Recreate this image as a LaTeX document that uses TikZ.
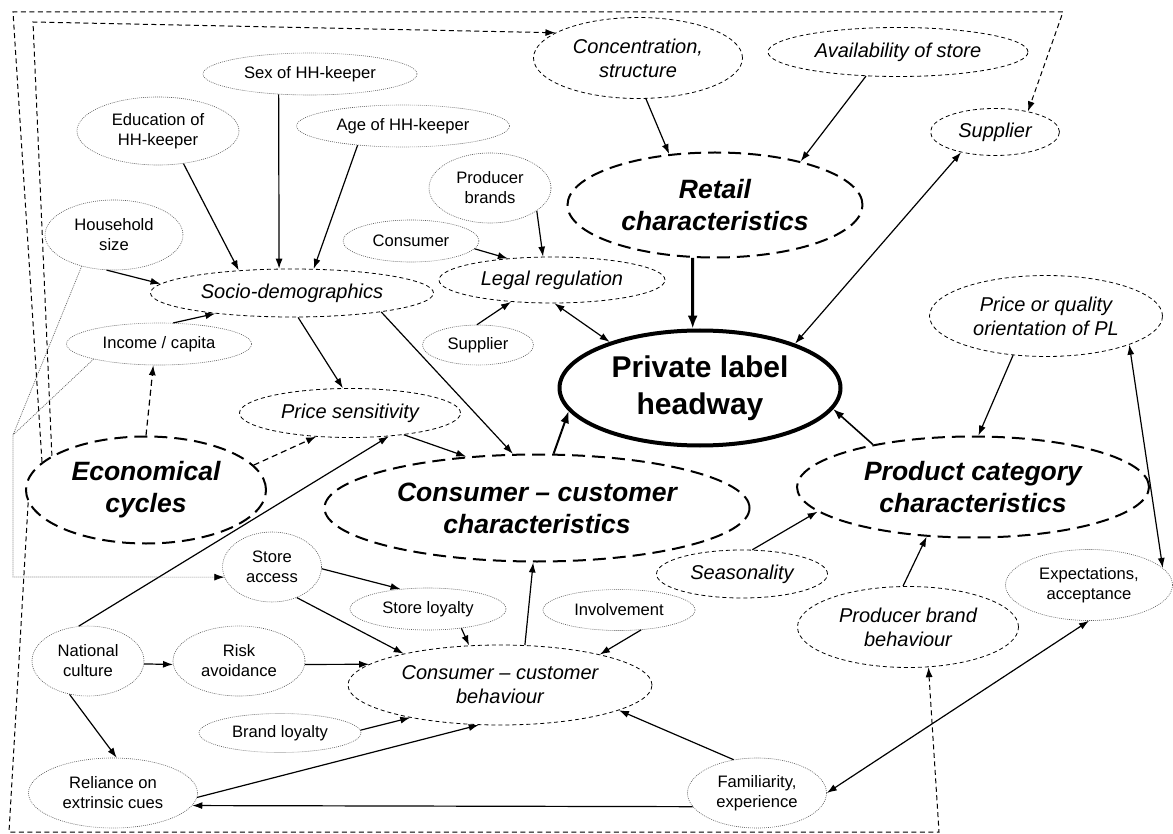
\documentclass[tikz,border=0pt]{standalone}
\usepackage{fontspec}
\setmainfont{Liberation Sans}
\usetikzlibrary{shapes.geometric,arrows.meta}
\begin{document}
\begin{tikzpicture}[x=1pt,y=-1pt,
  base/.style={ellipse,inner sep=0pt,align=center,text=black},
  sz/.style 2 args={minimum width=#1pt,minimum height=#2pt},
  dotell/.style={base,draw=black!65,line width=0.6pt,dash pattern=on 0.9pt off 1.1pt,font=\fontsize{16.6}{20}\selectfont},
  dashell/.style={base,draw,line width=0.8pt,dash pattern=on 4pt off 3pt,font=\itshape\fontsize{20}{24}\selectfont},
  bigell/.style={base,draw,line width=2pt,dash pattern=on 13pt off 7pt,font=\bfseries\itshape\fontsize{26.5}{32}\selectfont},
  mainell/.style={base,draw,line width=4pt,font=\bfseries\fontsize{30}{37}\selectfont},
  arr/.style={-{Latex[length=10pt,width=7pt]},line width=1.2pt},
  darr/.style={{Latex[length=10pt,width=7pt]}-{Latex[length=10pt,width=7pt]},line width=1.2pt},
  dasharr/.style={arr,dash pattern=on 6pt off 4pt},
  framearr/.style={-{Latex[length=10pt,width=7pt]},line width=1pt,dash pattern=on 5pt off 3.5pt},
  dotline/.style={draw=black!60,line width=0.7pt,dash pattern=on 1pt off 1pt},
]
\useasboundingbox (0,0) rectangle (1173,834);

% nodes
\node[dotell,sz={214}{42}] (sex) at (310,74) {Sex of HH-keeper};
\node[dotell,sz={162}{68}] (edu) at (158,131) {Education of\\HH-keeper};
\node[dotell,sz={213}{42}] (age) at (403,126) {Age of HH-keeper};
\node[dotell,sz={138}{70}] (hh) at (114,235) {Household\\size};
\node[dashell,sz={283}{48}] (socio) at (292,293) {Socio-demographics};
\node[dotell,sz={185}{42}] (inc) at (159,344) {Income / capita};
\node[bigell,sz={240}{107}] (econ) at (146,490) {Economical\\cycles};
\node[dashell,sz={221}{49}] (price) at (350,413) {Price sensitivity};
\node[dashell,sz={209}{81}] (conc) at (638,58) {Concentration,\\structure};
\node[dashell,sz={260}{49}] (avail) at (898,52) {Availability of store};
\node[dashell,sz={129}{47}] (supi) at (995,132) {Supplier};
\node[bigell,sz={295}{105}] (retail) at (715,205) {Retail\\characteristics};
\node[dotell,sz={122}{70}] (prodbr) at (490,188) {Producer\\brands};
\node[dotell,sz={136}{42}] (cons) at (411,241) {Consumer};
\node[dashell,sz={226}{46}] (legal) at (552,280) {Legal regulation};
\node[dotell,sz={111}{40}] (supp) at (478,345) {Supplier};
\node[mainell,sz={281}{115}] (plh) at (700,388) {Private label\\headway};
\node[dashell,sz={233}{81}] (pq) at (1046,316) {Price or quality\\orientation of PL};
\node[bigell,sz={352}{101}] (pcc) at (973,487) {Product category\\characteristics};
\node[bigell,sz={425}{107}] (ccc) at (537,508) {Consumer – customer\\characteristics};
\node[dashell,sz={171}{48}] (seas) at (742,574) {Seasonality};
\node[dotell,sz={99}{70}] (sa) at (272,567) {Store\\access};
\node[dotell,sz={156}{42}] (sl) at (428,609) {Store loyalty};
\node[dotell,sz={152}{41}] (inv) at (619,610) {Involvement};
\node[dashell,sz={304}{80}] (ccb) at (500,685) {Consumer – customer\\behaviour};
\node[dotell,sz={112}{70}] (nat) at (88,661) {National\\culture};
\node[dotell,sz={132}{70}] (risk) at (239,661) {Risk\\avoidance};
\node[dotell,sz={162}{39}] (bl) at (280,733) {Brand loyalty};
\node[dotell,sz={169}{70}] (rel) at (113,793) {Reliance on\\extrinsic cues};
\node[dotell,sz={139}{70}] (fam) at (757,793) {Familiarity,\\experience};
\node[dashell,sz={221}{81}] (pbb) at (908,627) {Producer brand\\behaviour};
\node[dotell,sz={167}{71}] (exp) at (1089,585) {Expectations,\\acceptance};

% helper coordinates
\coordinate (o1) at (13,12);
\coordinate (o2) at (1063,12);
\coordinate (i1) at (33,22);
\coordinate (b1) at (9,832);
\coordinate (b2) at (939,832);
\coordinate (d1) at (13,435);
\coordinate (d2) at (13,577);

% connectors
\draw[arr] (edu.308) -- (socio.157);
\draw[arr] (sex.213) -- (socio.118);
\draw[arr] (age.203) -- (socio.48);
\draw[arr] (hh.258) -- (socio.176);
\draw[arr] (inc.56) -- (socio.195);
\draw[arr] (socio.284) -- (price.106);
\draw[arr] (socio.348) -- (ccc.114);
\draw[dasharr] (econ.90) -- (inc.255);
\draw[dasharr] (econ.13) -- (price.215);
\draw[arr] (nat.105) -- (price.329);
\draw[arr] (price.338) -- (ccc.144);
\draw[arr] (conc.281) -- (retail.132);
\draw[arr] (avail.217) -- (retail.27);
\draw[-{Latex[length=13pt,width=10pt]},line width=3pt] (retail.247.5) -- (plh.97);
\draw[arr] (prodbr.334) -- (legal.111);
\draw[arr] (cons.353) -- (legal.154);
\draw[arr] (supp.93) -- (legal.208);
\draw[darr] (legal.276) -- (plh.153);
\draw[darr] (supi.211) -- (plh.25);
\draw[-{Latex[length=12pt,width=9pt]},line width=2pt] (ccc.73) -- (plh.190);
\draw[arr] (pq.230) -- (pcc.84);
\draw[-{Latex[length=11pt,width=8pt]},line width=1.6pt] (pcc.157) -- (plh.351);
\draw[arr] (seas.67) -- (pcc.189);
\draw[darr] (pq.341) -- (exp.13);
\draw[arr] (pbb.97) -- (pcc.227);
\draw[arr] (ccb.58) -- (ccc.266);
\draw[arr] (sa.358) -- (sl.144);
\draw[arr] (sa.309) -- (ccb.162);
\draw[arr] (sl.330) -- (ccb.128);
\draw[arr] (inv.318) -- (ccb.17);
\draw[arr] (nat.357) -- (risk.183);
\draw[arr] (risk.357) -- (ccb.171);
\draw[arr] (bl.2) -- (ccb.200);
\draw[arr] (rel.357) -- (ccb.242);
\draw[arr] (fam.125) -- (ccb.348);
\draw[arr] (fam.192) -- (rel.351);
\draw[darr] (fam.0) -- (exp.270);
\draw[arr] (nat.241) -- (rel.84);

% long dashed connectors from economical cycles
\draw[framearr] (econ.165) -- (o1) -- (o2) -- (supi.32);
\draw[framearr] (econ.160) -- (i1) -- (conc.163);
\draw[framearr] (econ.186) -- (b1) -- (b2) -- (pbb.297);

% dotted connectors to store access
\draw[dotline] (hh.224) -- (d1);
\draw[dotline,-{Latex[length=10pt,width=7pt,black]}] (inc.193) -- (d1) -- (d2) -- (sa.192);
\end{tikzpicture}
\end{document}
